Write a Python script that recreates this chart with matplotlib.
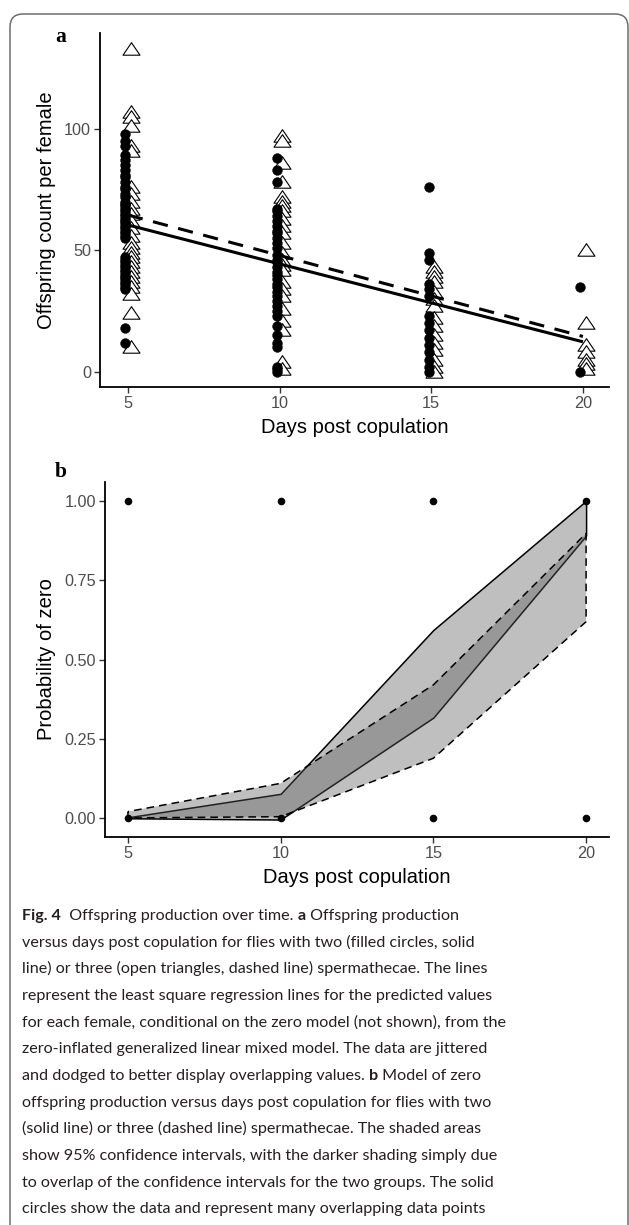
import numpy as np
import matplotlib
matplotlib.use("Agg")
import matplotlib.pyplot as plt
from matplotlib.patches import FancyBboxPatch
from matplotlib.path import Path
from matplotlib.transforms import IdentityTransform
from matplotlib import font_manager

# ---------------- data ----------------
# Panel a: offspring counts per female (two = filled circles, three = open triangles)
days_a = [5, 10, 15, 20]
two_d5 = [98, 95, 93, 89, 87, 85, 83, 81, 80, 78, 76, 75, 73, 72, 70, 69, 68, 67, 66, 65,
          64, 63, 62, 61, 60, 59, 58, 57, 56, 55, 47, 46, 45, 44, 43, 42, 41, 40, 39, 38,
          37, 36, 35, 34, 18, 12]
three_d5 = [133, 107, 105, 101, 93, 91, 76, 73, 70, 67, 65, 62, 59, 56, 53, 51, 49, 47, 45,
            43, 41, 39, 37, 35, 32, 24, 10]
two_d10 = [88, 83, 78, 67, 66, 64, 62, 60, 58, 57, 55, 53, 51, 48, 46, 45, 43, 41, 40, 38,
           36, 35, 33, 31, 29, 27, 25, 23, 19, 15, 12, 10, 2, 1, 0]
three_d10 = [97, 95, 86, 78, 72, 70, 68, 66, 63, 60, 57, 53, 49, 46, 44, 42, 37, 34, 31, 26,
             21, 17, 4, 1]
two_d15 = [76, 49, 46, 36, 34, 31, 23, 20, 17, 14, 11, 8, 5, 2, 0]
three_d15 = [43, 41, 39, 37, 33, 30, 27, 22, 19, 15, 12, 9, 5, 2, 0]
two_d20 = [35, 0]
three_d20 = [50, 20, 11, 8, 5, 3, 1]

line_days = [5, 20]
two_fit = [60.4, 12.3]
three_fit = [64.5, 14.5]

# Panel b: probability of zero
days_b = [5, 10, 15, 20]
two_lo = [0.0, -0.004, 0.317, 0.89]
two_hi = [0.003, 0.077, 0.593, 1.0]
three_lo = [0.001, 0.005, 0.189, 0.619]
three_hi = [0.021, 0.110, 0.420, 0.897]
obs_days = [5, 10, 15, 20, 5, 10, 15, 20]
obs_zero = [1, 1, 1, 1, 0, 0, 0, 0]

caption = [
    [("Fig. 4", True), ("  Offspring production over time. ", False), ("a", True), (" Offspring production", False)],
    [("versus days post copulation for flies with two (filled circles, solid", False)],
    [("line) or three (open triangles, dashed line) spermathecae. The lines", False)],
    [("represent the least square regression lines for the predicted values", False)],
    [("for each female, conditional on the zero model (not shown), from the", False)],
    [("zero-inflated generalized linear mixed model. The data are jittered", False)],
    [("and dodged to better display overlapping values. ", False), ("b", True), (" Model of zero", False)],
    [("offspring production versus days post copulation for flies with two", False)],
    [("(solid line) or three (dashed line) spermathecae. The shaded areas", False)],
    [("show 95% confidence intervals, with the darker shading simply due", False)],
    [("to overlap of the confidence intervals for the two groups. The solid", False)],
    [("circles show the data and represent many overlapping data points", False)],
]

# ---------------- figure ----------------
W, H = 629, 1225
fig = plt.figure(figsize=(W / 100, H / 100), dpi=100)
fig.patch.set_facecolor("white")

AX_FONT = "Liberation Sans"
TICK_COL = "#4d4d4d"


def ax_rect(l, r, t, b):
    return [l / W, 1 - b / H, (r - l) / W, (b - t) / H]


def style(ax):
    for s in ("top", "right"):
        ax.spines[s].set_visible(False)
    for s in ("left", "bottom"):
        ax.spines[s].set_linewidth(1.3)
        ax.spines[s].set_color("black")
    ax.tick_params(length=4, width=1.0, color="#333333", labelcolor=TICK_COL,
                   labelsize=11.7, pad=2.5)
    for lab in ax.get_xticklabels() + ax.get_yticklabels():
        lab.set_fontfamily(AX_FONT)
    ax.set_facecolor("none")


# Panel a
axa = fig.add_axes(ax_rect(100, 609, 33, 387))
tri = Path([(0, 0.8), (-1, -0.67), (1, -0.67), (0, 0.8)],
           [Path.MOVETO, Path.LINETO, Path.LINETO, Path.CLOSEPOLY])
two_groups = [two_d5, two_d10, two_d15, two_d20]
three_groups = [three_d5, three_d10, three_d15, three_d20]
for d, vals in zip(days_a, three_groups):
    axa.scatter(np.full(len(vals), d + 0.09), vals, marker=tri, s=150,
                facecolor="white", edgecolor="black", linewidth=0.8, zorder=2)
for d, vals in zip(days_a, two_groups):
    axa.scatter(np.full(len(vals), d - 0.09), vals, marker="o", s=50,
                facecolor="black", edgecolor="black", linewidth=0.3, zorder=3)
axa.plot(line_days, two_fit, color="black", lw=2.2, solid_capstyle="butt", zorder=4)
axa.plot(line_days, three_fit, color="black", lw=2.2, ls=(0, (5, 3.5)),
         dash_capstyle="butt", zorder=4)
axa.set_xlim(4.08, 20.86)
axa.set_ylim(-6.3, 139.4)
axa.set_xticks([5, 10, 15, 20])
axa.set_yticks([0, 50, 100])
style(axa)
axa.set_xlabel("Days post copulation", fontsize=14.5, family=AX_FONT, color="black", labelpad=5)
axa.set_ylabel("Offspring count per female", fontsize=14.5, family=AX_FONT, color="black", labelpad=6)

# Panel b
axb = fig.add_axes(ax_rect(105, 609, 482, 837))
fill = (0.35, 0.35, 0.35, 0.38)
axb.fill_between(days_b, two_lo, two_hi, facecolor=fill, edgecolor="black",
                 linewidth=1.1, linestyle="-", zorder=2)
axb.fill_between(days_b, three_lo, three_hi, facecolor=fill, edgecolor="black",
                 linewidth=1.1, linestyle=(0, (5, 3.3)), zorder=2)
axb.scatter(obs_days, obs_zero, s=20, color="black", zorder=3)
axb.set_xlim(4.25, 20.75)
axb.set_ylim(-0.059, 1.059)
axb.set_xticks([5, 10, 15, 20])
axb.set_yticks([0, 0.25, 0.5, 0.75, 1.0])
axb.set_yticklabels(["0.00", "0.25", "0.50", "0.75", "1.00"])
style(axb)
axb.set_xlabel("Days post copulation", fontsize=14.5, family=AX_FONT, color="black", labelpad=5)
axb.set_ylabel("Probability of zero", fontsize=14.5, family=AX_FONT, color="black", labelpad=6)

# panel letters
fig.text(55 / W, 1 - 42 / H, "a", fontsize=15.5, fontweight="bold",
         family="Liberation Serif", va="baseline", ha="left")
fig.text(55 / W, 1 - 477 / H, "b", fontsize=15.5, fontweight="bold",
         family="Liberation Serif", va="baseline", ha="left")

# frame
frame = FancyBboxPatch((10, -40), 618, H - 14 + 40,
                       boxstyle="round,pad=0,rounding_size=13",
                       transform=IdentityTransform(), facecolor="none",
                       edgecolor="#6e6e6e", linewidth=1.1, zorder=0)
fig.patches.append(frame)

# caption
cap_font = "Lato"
for cand in ["Liberation Sans Narrow", "Lato"]:
    try:
        font_manager.findfont(cand, fallback_to_default=False)
        cap_font = cand
        break
    except Exception:
        pass

renderer = fig.canvas.get_renderer()


def text_w(s, bold, size):
    t1 = fig.text(0, 0, "x" + s + "x", fontsize=size, family=cap_font,
                  fontweight="bold" if bold else "normal")
    t2 = fig.text(0, 0, "xx", fontsize=size, family=cap_font,
                  fontweight="bold" if bold else "normal")
    w = t1.get_window_extent(renderer).width - t2.get_window_extent(renderer).width
    t1.remove()
    t2.remove()
    return w


ref_line = caption[4][0][0]
base = 10.0
cap_size = base * 486.0 / text_w(ref_line, False, base)

x0 = 22
y0 = 920
dy = 26.67
for i, segs in enumerate(caption):
    x = x0
    y = y0 + i * dy
    for s, bold in segs:
        fig.text(x / W, 1 - y / H, s, fontsize=cap_size, family=cap_font,
                 fontweight="bold" if bold else "normal", va="baseline",
                 ha="left", color="#231f20")
        x += text_w(s, bold, cap_size)

fig.savefig("out.png", dpi=100)
